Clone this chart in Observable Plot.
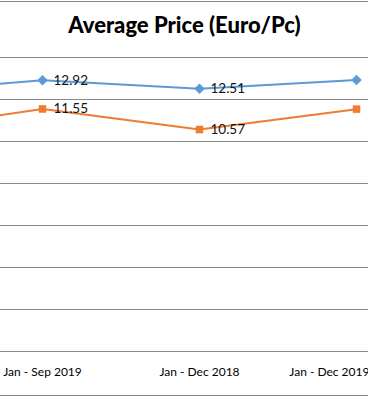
<!DOCTYPE html>
<html>
<head>
<meta charset="utf-8">
<script src="https://cdn.jsdelivr.net/npm/d3@7"></script>
<script src="https://cdn.jsdelivr.net/npm/@observablehq/plot@0.6"></script>
<style>
  html, body { margin: 0; padding: 0; background: #fff; overflow: hidden; }
  #wrap { position: relative; width: 368px; height: 397px; }
  #border { position: absolute; left: 0; top: 1px; width: 368px; height: 393px;
            border-top: 1px solid #8a8a8a; border-bottom: 1px solid #8a8a8a; pointer-events: none; }
  #wrap svg { position: absolute; left: 0; top: 0; overflow: hidden; }
</style>
</head>
<body>
<div id="wrap"><div id="border"></div></div>
<script>
const titleText = "Average Price (Euro/Pc)";
const categories = ["Jan - Sep 2018", "Jan - Sep 2019", "Jan - Dec 2018", "Jan - Dec 2019 (Forecast)"];
const blueValues = [12.28, 12.92, 12.51, 12.93];
const orangeValues = [10.45, 11.55, 10.57, 11.54];
const yTicks = [0, 2, 4, 6, 8, 10, 12, 14];

const blue = "#5b9bd5";
const orange = "#ed7d31";

const blueData = categories.map((c, i) => ({cat: c, v: blueValues[i]}));
const orangeData = categories.map((c, i) => ({cat: c, v: orangeValues[i]}));

const chart = Plot.plot({
  width: 368,
  height: 397,
  marginTop: 57,
  marginBottom: 46,
  marginLeft: 0,
  marginRight: 0,
  style: {fontFamily: "Lato, sans-serif", background: "transparent", overflow: "hidden"},
  x: {type: "point", domain: categories, range: [-115.5, 357], padding: 0},
  y: {domain: [0, 14], ticks: yTicks},
  marks: [
    Plot.ruleY(yTicks, {stroke: "#8a8a8a", strokeWidth: 1, strokeOpacity: 1}),
    Plot.axisX({tickSize: 0, tickPadding: 16, fontSize: 12, fill: "#000", label: null}),
    Plot.axisY({ticks: [], label: null}),
    Plot.lineY(blueData, {x: "cat", y: "v", stroke: blue, strokeWidth: 2}),
    Plot.lineY(orangeData, {x: "cat", y: "v", stroke: orange, strokeWidth: 2}),
    Plot.dot(blueData, {x: "cat", y: "v", symbol: "diamond2", r: 4.5, fill: blue, stroke: blue, strokeWidth: 0.5}),
    Plot.dot(orangeData, {x: "cat", y: "v", symbol: "square2", r: 4.5, fill: orange, stroke: orange, strokeWidth: 0.5}),
    Plot.text(blueData, {x: "cat", y: "v", text: d => d.v.toFixed(2), dx: 11, textAnchor: "start", fontSize: 13.5, fill: "#111"}),
    Plot.text(orangeData, {x: "cat", y: "v", text: d => d.v.toFixed(2), dx: 11, textAnchor: "start", fontSize: 13.5, fill: "#111"}),
    Plot.text([titleText], {frameAnchor: "top", dy: -32, fontSize: 22, fontWeight: 900, fill: "#000", lineAnchor: "middle"})
  ]
});
document.getElementById("wrap").prepend(chart);
</script>
</body>
</html>
